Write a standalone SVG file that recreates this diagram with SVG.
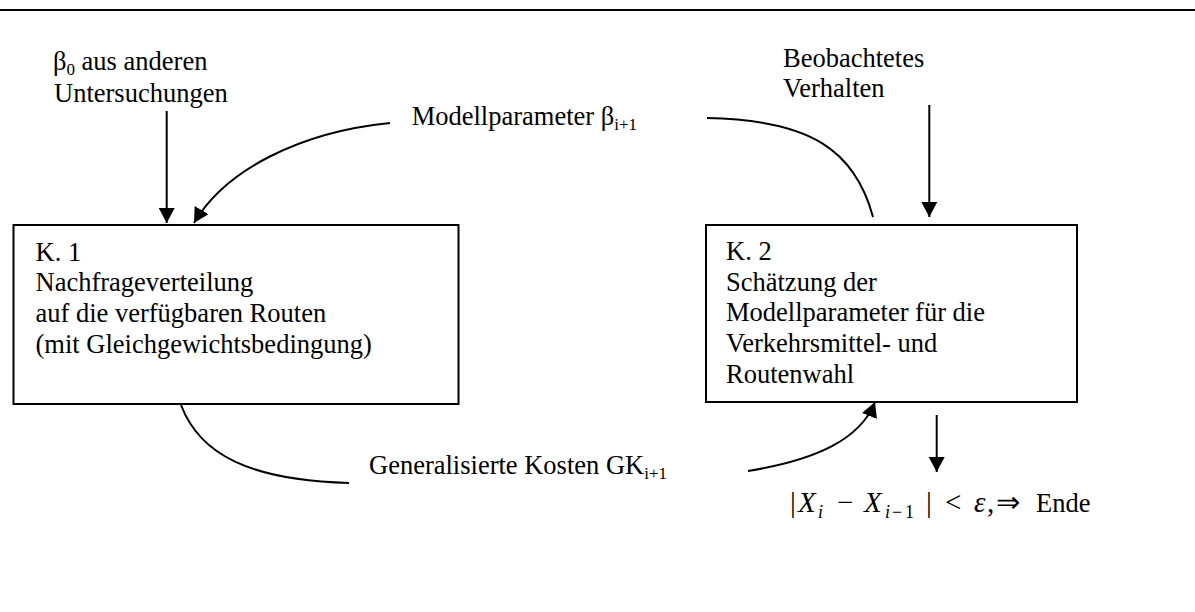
<svg xmlns="http://www.w3.org/2000/svg" width="1195" height="612" viewBox="0 0 1195 612">
<defs>
<style>
text{font-family:"Liberation Serif","Times New Roman",serif;font-size:26.5px;fill:#000}
.sub{font-size:17px}
.it{font-style:italic}
.m{font-size:29px}
.ms{font-size:18px}
.box{fill:#fff;stroke:#000;stroke-width:2}
.con{fill:none;stroke:#000;stroke-width:2}
</style>
<marker id="ah" viewBox="0 0 15 16" refX="15" refY="8" markerWidth="15" markerHeight="16" markerUnits="userSpaceOnUse" orient="auto">
<path d="M0,0 L15,8 L0,16 z" fill="#000"/>
</marker>
</defs>
<rect width="1195" height="612" fill="#fff"/>
<line x1="0" y1="10" x2="1195" y2="10" stroke="#000" stroke-width="2"/>

<g id="connectors">
<line class="con" x1="166.7" y1="111" x2="166.7" y2="223" marker-end="url(#ah)"/>
<line class="con" x1="929.3" y1="105" x2="929.3" y2="217" marker-end="url(#ah)"/>
<line class="con" x1="936.7" y1="415" x2="936.7" y2="472" marker-end="url(#ah)"/>
<path class="con" d="M390,123 C300,132 225,170 194,223" marker-end="url(#ah)"/>
<path class="con" d="M707,118 C810,120 855,150 873,217"/>
<path class="con" d="M181,405 C200,455 250,480 349,483"/>
<path class="con" d="M748,471 C815,460 860,440 875,402" marker-end="url(#ah)"/>
</g>

<g id="k1">
<rect class="box" x="13.5" y="225" width="445" height="179"/>
<text x="35.5" y="260.5">K. 1</text>
<text x="35.5" y="291.2">Nachfrageverteilung</text>
<text x="35.5" y="321.9">auf die verfügbaren Routen</text>
<text x="35.5" y="352.6">(mit Gleichgewichtsbedingung)</text>
</g>

<g id="k2">
<rect class="box" x="706" y="225" width="371" height="177"/>
<text x="726" y="260">K. 2</text>
<text x="726" y="290.7">Schätzung der</text>
<text x="726" y="321.4">Modellparameter für die</text>
<text x="726" y="352.1">Verkehrsmittel- und</text>
<text x="726" y="382.8">Routenwahl</text>
</g>

<g id="beta0">
<text x="53" y="70">β<tspan class="sub" dy="5">0</tspan><tspan dy="-5"> aus anderen</tspan></text>
<text x="54" y="101.5">Untersuchungen</text>
</g>

<g id="beobachtet">
<text x="783" y="66.7">Beobachtetes</text>
<text x="783" y="97.3">Verhalten</text>
</g>

<g id="modellparameter">
<text x="411.7" y="125">Modellparameter β<tspan class="sub" dy="5">i+1</tspan></text>
</g>

<g id="kosten">
<text x="369" y="474">Generalisierte Kosten GK<tspan class="sub" dy="5">i+1</tspan></text>
</g>

<g id="ende">
<text x="790" y="512" class="m">|</text>
<text x="798" y="512" class="m it">X</text>
<text x="818" y="518" class="ms it">i</text>
<text x="837" y="512" class="m">−</text>
<text x="864" y="512" class="m it">X</text>
<text x="885" y="518" class="ms"><tspan class="it">i</tspan><tspan x="892">−</tspan><tspan x="905">1</tspan></text>
<text x="926" y="512" class="m">|</text>
<text x="945" y="512" class="m">&lt;</text>
<text x="974" y="512" class="m it">ε</text>
<text x="987" y="512" class="m">,</text>
<text x="996" y="512" class="m">⇒</text>
<text x="1036" y="512">Ende</text>
</g>
</svg>
